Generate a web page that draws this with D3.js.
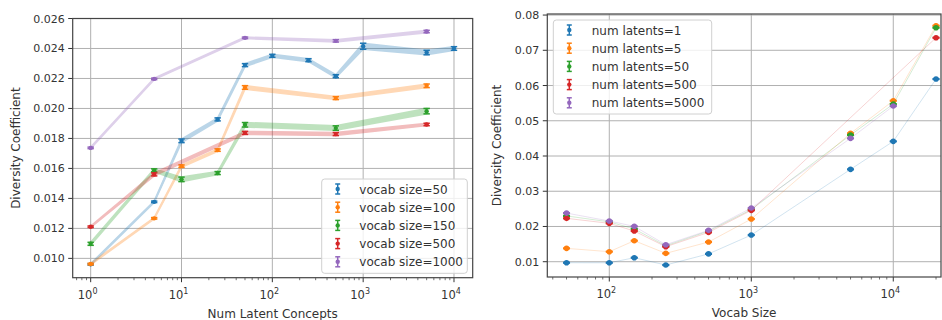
<!DOCTYPE html>
<html>
<head>
<meta charset="utf-8">
<script src="https://cdn.jsdelivr.net/npm/d3@7"></script>
<style>
  body { margin: 0; background: #fff; }
  svg { font-family: "DejaVu Sans", sans-serif; }
</style>
</head>
<body>
<svg id="chart" width="942" height="320"></svg>
<script>
// ---- left panel data: diversity vs num latent concepts, one series per vocab size
const vocabLabels = ['vocab size=50', 'vocab size=100', 'vocab size=150', 'vocab size=500', 'vocab size=1000'];
const latentX50 = [1, 5, 10, 25, 50, 100, 250, 500, 1000, 5000, 10000];
const latentX100 = [1, 5, 10, 25, 50, 500, 5000];
const latentX150 = [1, 5, 10, 25, 50, 500, 5000];
const latentX500 = [1, 5, 50, 500, 5000];
const latentX1000 = [1, 5, 50, 500, 5000];
const divVocab50 = [0.0096, 0.01377, 0.01784, 0.01927, 0.02289, 0.02351, 0.02322, 0.02215, 0.02415, 0.02373, 0.0240];
const divVocab100 = [0.00962, 0.01267, 0.01615, 0.01722, 0.0214, 0.02069, 0.02151];
const divVocab150 = [0.01097, 0.01587, 0.01527, 0.01569, 0.01891, 0.01869, 0.01982];
const divVocab500 = [0.01211, 0.0156, 0.01837, 0.01829, 0.01893];
const divVocab1000 = [0.01737, 0.02197, 0.02471, 0.02451, 0.02513];
const errVocab50 = [0.00005, 0.00005, 0.00012, 0.0001, 0.0001, 0.0001, 0.0001, 0.0001, 0.0002, 0.00015, 0.00012];
const errVocab100 = [0.00005, 0.00005, 0.00008, 0.00008, 0.00012, 0.0001, 0.00012];
const errVocab150 = [0.0001, 0.0001, 0.00015, 0.0001, 0.00015, 0.00015, 0.00018];
const errVocab500 = [0.00005, 0.0001, 0.0001, 0.0001, 0.00008];
const errVocab1000 = [0.00005, 0.00005, 0.00005, 0.00008, 0.00008];

// ---- right panel data: diversity vs vocab size, one series per num latents
const latentLabels = ['num latents=1', 'num latents=5', 'num latents=50', 'num latents=500', 'num latents=5000'];
const vocabX = [50, 100, 150, 250, 500, 1000, 5000, 10000, 20000];
const vocabXLat500 = [50, 100, 150, 250, 500, 1000, 20000];
const vocabXLat5000 = [50, 100, 150, 250, 500, 1000, 5000, 10000];
const divLat1 = [0.00971, 0.0097, 0.01113, 0.00906, 0.01222, 0.01757, 0.03621, 0.04416, 0.06184];
const divLat5 = [0.01379, 0.01284, 0.01596, 0.01237, 0.01559, 0.02211, 0.04643, 0.05568, 0.07697];
const divLat50 = [0.0230, 0.0213, 0.0193, 0.0145, 0.0187, 0.0248, 0.04595, 0.05474, 0.0764];
const divLat500 = [0.02231, 0.02089, 0.01871, 0.01425, 0.01833, 0.02458, 0.07356];
const divLat5000 = [0.0238, 0.02155, 0.02003, 0.01482, 0.0189, 0.02523, 0.04501, 0.05418];

const leftYTicks = [0.010, 0.012, 0.014, 0.016, 0.018, 0.020, 0.022, 0.024, 0.026];
const rightYTicks = [0.01, 0.02, 0.03, 0.04, 0.05, 0.06, 0.07, 0.08];
const colors = ['#1f77b4', '#ff7f0e', '#2ca02c', '#d62728', '#9467bd'];

const leftSeries = [
  {xs: latentX50, ys: divVocab50, es: errVocab50},
  {xs: latentX100, ys: divVocab100, es: errVocab100},
  {xs: latentX150, ys: divVocab150, es: errVocab150},
  {xs: latentX500, ys: divVocab500, es: errVocab500},
  {xs: latentX1000, ys: divVocab1000, es: errVocab1000}
].map((s, i) => ({label: vocabLabels[i], color: colors[i], pts: s.xs.map((x, j) => ({x, y: s.ys[j], e: s.es[j]}))}));

const rightSeries = [
  {xs: vocabX, ys: divLat1},
  {xs: vocabX, ys: divLat5},
  {xs: vocabX, ys: divLat50},
  {xs: vocabXLat500, ys: divLat500},
  {xs: vocabXLat5000, ys: divLat5000}
].map((s, i) => ({label: latentLabels[i], color: colors[i], pts: s.xs.map((x, j) => ({x, y: s.ys[j], e: 0.0001}))}));

const svg = d3.select('#chart');

function drawPanel(cfg) {
  const {left, right, top, bottom} = cfg;
  const x = d3.scaleLog().domain(cfg.xDomain).range([left, right]);
  const y = d3.scaleLinear().domain(cfg.yDomain).range([bottom, top]);
  const g = svg.append('g');

  // grid
  const decades = d3.range(-1, 6).map(p => Math.pow(10, p)).filter(v => v >= cfg.xDomain[0] && v <= cfg.xDomain[1]);
  g.append('g').selectAll('line').data(decades).enter().append('line')
    .attr('x1', d => x(d)).attr('x2', d => x(d)).attr('y1', top).attr('y2', bottom)
    .attr('stroke', '#b0b0b0').attr('stroke-width', 1);
  g.append('g').selectAll('line').data(cfg.yTicks).enter().append('line')
    .attr('x1', left).attr('x2', right).attr('y1', d => y(d)).attr('y2', d => y(d))
    .attr('stroke', '#b0b0b0').attr('stroke-width', 1);

  // series
  const line = d3.line().x(d => x(d.x)).y(d => y(d.y));
  const band = d3.area().x(d => x(d.x)).y0(d => y(d.y - d.e)).y1(d => y(d.y + d.e));
  cfg.series.forEach(s => {
    // group opacity so band + line don't stack alpha
    const lg = g.append('g').attr('opacity', cfg.lineAlpha);
    if (cfg.band) {
      lg.append('path').attr('d', band(s.pts)).attr('fill', s.color)
        .attr('stroke', s.color).attr('stroke-width', 1.5);
    }
    lg.append('path').attr('d', line(s.pts)).attr('fill', 'none').attr('stroke', s.color)
      .attr('stroke-width', cfg.lineWidth);
    const m = g.append('g').selectAll('g').data(s.pts).enter().append('g');
    m.append('line').attr('x1', d => x(d.x)).attr('x2', d => x(d.x))
      .attr('y1', d => y(d.y - d.e)).attr('y2', d => y(d.y + d.e))
      .attr('stroke', s.color).attr('stroke-width', 1.5);
    [-1, 1].forEach(sg => m.append('line')
      .attr('x1', d => x(d.x) - cfg.cap).attr('x2', d => x(d.x) + cfg.cap)
      .attr('y1', d => y(d.y + sg * d.e)).attr('y2', d => y(d.y + sg * d.e))
      .attr('stroke', s.color).attr('stroke-width', 1.5));
    m.append('circle').attr('cx', d => x(d.x)).attr('cy', d => y(d.y)).attr('r', cfg.dot).attr('fill', s.color);
  });

  // ticks
  const minor = [];
  d3.range(-1, 6).forEach(p => d3.range(2, 10).forEach(k => {
    const v = k * Math.pow(10, p);
    if (v >= cfg.xDomain[0] && v <= cfg.xDomain[1]) minor.push(v);
  }));
  g.append('g').selectAll('line').data(minor).enter().append('line')
    .attr('x1', d => x(d)).attr('x2', d => x(d)).attr('y1', bottom).attr('y2', bottom + 2.5)
    .attr('stroke', '#333').attr('stroke-width', 0.7);
  g.append('g').selectAll('line').data(decades).enter().append('line')
    .attr('x1', d => x(d)).attr('x2', d => x(d)).attr('y1', bottom).attr('y2', bottom + 4.5)
    .attr('stroke', '#333').attr('stroke-width', 1);
  const xl = g.append('g').selectAll('text').data(decades).enter().append('text')
    .attr('x', d => x(d) - 3).attr('y', bottom + 21).attr('text-anchor', 'middle')
    .attr('font-size', 11.5).attr('fill', '#333');
  xl.append('tspan').text('10');
  xl.append('tspan').attr('dy', -5).attr('font-size', 8).text(d => Math.round(Math.log10(d)));

  g.append('g').selectAll('line').data(cfg.yTicks).enter().append('line')
    .attr('x1', left - 4.5).attr('x2', left).attr('y1', d => y(d)).attr('y2', d => y(d))
    .attr('stroke', '#333').attr('stroke-width', 1);
  g.append('g').selectAll('text').data(cfg.yTicks).enter().append('text')
    .attr('x', left - 8).attr('y', d => y(d) + 4).attr('text-anchor', 'end')
    .attr('font-size', 11).attr('fill', '#333').text(d => d3.format(cfg.yFmt)(d));

  // spines
  g.append('rect').attr('x', left).attr('y', top).attr('width', right - left).attr('height', bottom - top)
    .attr('fill', 'none').attr('stroke', '#444').attr('stroke-width', 1.2);

  // labels
  g.append('text').attr('x', (left + right) / 2).attr('y', bottom + 40).attr('text-anchor', 'middle')
    .attr('font-size', 12).attr('fill', '#333').text(cfg.xLabel);
  g.append('text').attr('transform', `translate(${cfg.yLabelX},${(top + bottom) / 2}) rotate(-90)`)
    .attr('text-anchor', 'middle').attr('font-size', 12).attr('fill', '#333').text('Diversity Coefficient');

  // legend
  const L = cfg.legend;
  g.append('rect').attr('x', L.x).attr('y', L.y).attr('width', L.w).attr('height', L.h).attr('rx', 3)
    .attr('fill', '#fff').attr('fill-opacity', 0.8).attr('stroke', '#d0d0d0');
  const items = g.append('g').selectAll('g').data(cfg.series).enter().append('g')
    .attr('transform', (d, i) => `translate(${L.x},${L.y + 10 + i * 18.2})`);
  items.append('line').attr('x1', 16).attr('x2', 16).attr('y1', -5).attr('y2', 5).attr('stroke', d => d.color).attr('stroke-width', 1.5);
  items.append('line').attr('x1', 13.5).attr('x2', 18.5).attr('y1', -5).attr('y2', -5).attr('stroke', d => d.color).attr('stroke-width', 1.5);
  items.append('line').attr('x1', 13.5).attr('x2', 18.5).attr('y1', 5).attr('y2', 5).attr('stroke', d => d.color).attr('stroke-width', 1.5);
  items.append('circle').attr('cx', 16).attr('cy', 0).attr('r', 2.2).attr('fill', d => d.color);
  items.append('text').attr('x', L.tx).attr('y', 4.5).attr('font-size', 12).attr('fill', '#333').text(d => d.label);
}

drawPanel({
  left: 72.7, right: 472.7, top: 18.5, bottom: 277.7,
  xDomain: [0.634, 16070], yDomain: [0.00871, 0.026],
  yTicks: leftYTicks, yFmt: '.3f', series: leftSeries,
  band: true, lineAlpha: 0.3, lineWidth: 1.5, cap: 3.2, dot: 2.2,
  xLabel: 'Num Latent Concepts', yLabelX: 20,
  legend: {x: 321.7, y: 179, w: 145.6, h: 94.3, tx: 37.6}
});

drawPanel({
  left: 547.3, right: 941, top: 14, bottom: 277,
  xDomain: [36.6, 21680], yDomain: [0.00566, 0.0803],
  yTicks: rightYTicks, yFmt: '.2f', series: rightSeries,
  band: false, lineAlpha: 0.2, lineWidth: 1, cap: 3.5, dot: 2.8,
  xLabel: 'Vocab Size', yLabelX: 501,
  legend: {x: 553.3, y: 20, w: 158.4, h: 94, tx: 38.4}
});
</script>
</body>
</html>
